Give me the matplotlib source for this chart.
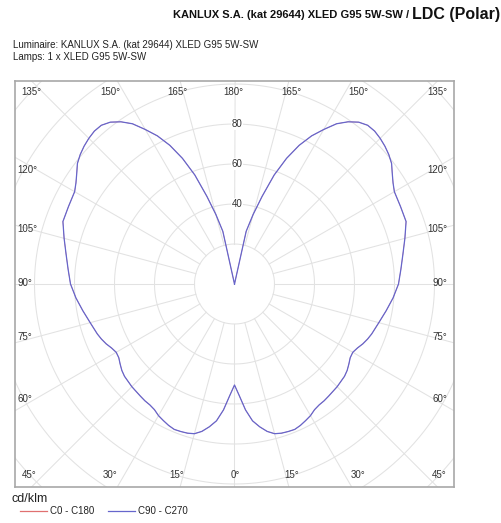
import numpy as np
import matplotlib
matplotlib.use("Agg")
import matplotlib.pyplot as plt
from matplotlib.lines import Line2D

plt.rcParams['font.family'] = ['Liberation Sans', 'DejaVu Sans']

# ---- data (gamma angle in degrees, intensity in cd/klm), symmetric curve ----
gamma = [0, 2.5, 5, 7.5, 10, 12.5, 15, 17.5, 20, 22.5, 25, 27.5, 30, 32.5, 35,
         37.5, 40, 45, 50, 52.5, 55, 57.5, 60, 62.5, 65, 67.5, 70, 75, 80, 85,
         90, 95, 100, 105, 110, 115, 120, 122.5, 125, 127.5, 130, 132.5, 135,
         137.5, 140, 142.5, 145, 147.5, 150, 152.5, 155, 157.5, 160, 162.5,
         165, 167.5, 170, 175, 180]
c90_c270 = [50.5, 56, 63.2, 69, 72.5, 75.5, 77.5, 78.2, 78.5, 78.7, 78, 77, 76,
            74.5, 73.8, 73.6, 73.2, 72.6, 71.8, 71, 69.8, 68.6, 68.3, 69.3,
            70.8, 72, 73, 74.7, 77, 79.6, 82, 83.5, 85.5, 88.2, 91.3, 91.6,
            92.3, 94, 96.3, 99, 100.7, 102, 103, 103.7, 103.6, 102, 99, 95,
            89.2, 83.5, 76.5, 68, 58, 46, 36, 27, 0, 0, 0]
c0_c180 = list(c90_c270)

radial_ticks = [40, 60, 80]
grid_radii = [20, 40, 60, 80, 100, 120, 140]
angle_labels_top = ["135°", "150°", "165°", "180°", "165°", "150°", "135°"]
angle_labels_side = ["120°", "105°", "90°", "75°", "60°"]
angle_labels_bottom = ["45°", "30°", "15°", "0°", "15°", "30°", "45°"]

title_main = "KANLUX S.A. (kat 29644) XLED G95 5W-SW / "
title_bold = "LDC (Polar)"
info_lines = ["Luminaire: KANLUX S.A. (kat 29644) XLED G95 5W-SW",
              "Lamps: 1 x XLED G95 5W-SW"]
unit_label = "cd/klm"
legend_labels = ["C0 - C180", "C90 - C270"]

# ---- figure ----
W, H = 502, 523
fig = plt.figure(figsize=(W / 100, H / 100), dpi=100)

px_l, px_r, px_t, px_b = 15, 454, 81, 487
ax = fig.add_axes([px_l / W, 1 - px_b / H, (px_r - px_l) / W, (px_b - px_t) / H])
scale = 2.0  # px per cd/klm
ax.set_xlim(-(px_r - px_l) / 2 / scale, (px_r - px_l) / 2 / scale)
ax.set_ylim(-(px_b - px_t) / 2 / scale, (px_b - px_t) / 2 / scale)
ax.set_xticks([])
ax.set_yticks([])
for s in ax.spines.values():
    s.set_color('#a8a8a8')
    s.set_linewidth(1.2)

gcol = '#e2e2e2'
t = np.linspace(0, 2 * np.pi, 400)
for r in grid_radii:
    ax.plot(r * np.cos(t), r * np.sin(t), color=gcol, lw=0.75, zorder=1)
for a in range(0, 360, 15):
    ar = np.deg2rad(a)
    ax.plot([20 * np.sin(ar), 300 * np.sin(ar)], [-20 * np.cos(ar), -300 * np.cos(ar)],
            color=gcol, lw=0.75, zorder=1)

for v in radial_ticks:
    ax.text(1.2, v, str(v), ha='center', va='center', fontsize=7, color='#333333',
            zorder=3, bbox=dict(facecolor='white', edgecolor='none', pad=0.5))

# curve (mirror for the left half); C0-C180 lies under C90-C270
g = np.array(gamma)
th = np.deg2rad(np.concatenate([-g[::-1], g[1:]]))
for vals, col, z, lw in [(c0_c180, '#e07070', 4, 0.4), (c90_c270, '#6666cc', 5, 0.9)]:
    v = np.array(vals)
    rr = np.concatenate([v[::-1], v[1:]])
    ax.plot(rr * np.sin(th), -rr * np.cos(th), color=col, lw=lw, zorder=z)

# angle labels
def axpos(px, py):
    return (px - px_l) / (px_r - px_l), (px_b - py) / (px_b - px_t)

cx = 234.5
top_x = [cx - 203.5, cx - 124.5, cx - 57.5, cx - 1.5, cx + 57, cx + 124, cx + 202.5]
bot_x = [cx - 205, cx - 124, cx - 57.5, cx + 0.5, cx + 57, cx + 124, cx + 204.5]
side_y = [170, 229.5, 283.5, 337.5, 398.5]
lc = '#333333'
fs = 7
for lab, x in zip(angle_labels_top, top_x):
    ax.text(*axpos(x, 92), lab, transform=ax.transAxes, ha='center', va='center',
            fontsize=fs, color=lc)
for lab, x in zip(angle_labels_bottom, bot_x):
    ax.text(*axpos(x, 475), lab, transform=ax.transAxes, ha='center', va='center',
            fontsize=fs, color=lc)
for lab, y in zip(angle_labels_side, side_y):
    ax.text(*axpos(17.5, y), lab, transform=ax.transAxes, ha='left', va='center',
            fontsize=fs, color=lc)
    ax.text(*axpos(447, y), lab, transform=ax.transAxes, ha='right', va='center',
            fontsize=fs, color=lc)

# titles
def fpos(px, py):
    return px / W, 1 - py / H

t2 = fig.text(*fpos(500, 14.5), title_bold, ha='right', va='center', fontsize=11.5,
              fontweight='bold', color='#111111')
fig.canvas.draw()
bb = t2.get_window_extent()
fig.text(bb.x0 / W, 1 - 15 / H, title_main, ha='right', va='center', fontsize=8,
         fontweight='bold', color='#111111')
fig.text(*fpos(13, 45), info_lines[0], ha='left', va='center', fontsize=7, color='#222222')
fig.text(*fpos(13, 57), info_lines[1], ha='left', va='center', fontsize=7, color='#222222')

# legend
fig.text(*fpos(12, 499), unit_label, ha='left', va='center', fontsize=9, color='#222222')
for (x0, x1, xt), lab, col in zip([(20, 47, 50.5), (108, 135, 138)], legend_labels,
                                  ['#e07070', '#6666cc']):
    fig.add_artist(Line2D([x0 / W, x1 / W], [1 - 511 / H, 1 - 511 / H], color=col, lw=0.9,
                          transform=fig.transFigure))
    fig.text(*fpos(xt, 511), lab, ha='left', va='center', fontsize=7, color='#222222')

fig.savefig('out.png', dpi=100, facecolor='white')
